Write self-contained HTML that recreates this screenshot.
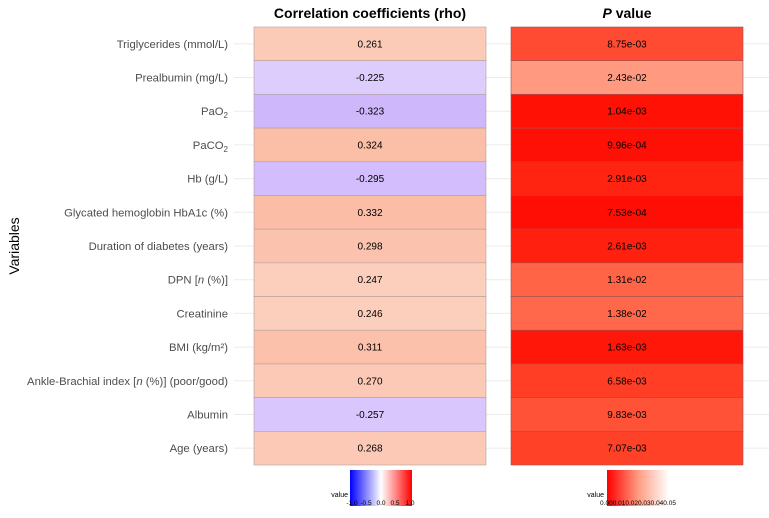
<!DOCTYPE html>
<html><head><meta charset="utf-8"><style>
body{margin:0;background:#fff;font-family:"Liberation Sans",sans-serif;}
svg text{font-family:"Liberation Sans",sans-serif;}
</style></head><body>
<svg id="c" width="769" height="513" xmlns="http://www.w3.org/2000/svg">
<defs>
<linearGradient id="gRho" x1="0" x2="1" y1="0" y2="0">
<stop offset="0" stop-color="#0000ff"/><stop offset="0.5" stop-color="#ffffff"/><stop offset="1" stop-color="#ff0000"/>
</linearGradient>
<linearGradient id="gP" x1="0" x2="1" y1="0" y2="0">
<stop offset="0" stop-color="#ff0000"/><stop offset="0.5" stop-color="#ff9a80"/><stop offset="1" stop-color="#ffffff"/>
</linearGradient>
</defs>
<g id="grid"></g>
<g id="cells"></g>
<text x="370" y="18" text-anchor="middle" font-size="14" font-weight="bold" fill="#000">Correlation coefficients (rho)</text>
<text x="627" y="18" text-anchor="middle" font-size="14" font-weight="bold" fill="#000"><tspan font-style="italic">P</tspan> value</text>
<text transform="translate(19,246) rotate(-90)" text-anchor="middle" font-size="14" fill="#000">Variables</text>
<g id="ylabels"></g>
<g>
<text x="348" y="497" text-anchor="end" font-size="7" fill="#000">value</text>
<rect x="350" y="470" width="62" height="36" fill="url(#gRho)"/>
<text x="352" y="505" text-anchor="middle" font-size="6.5">-1.0</text>
<text x="366" y="505" text-anchor="middle" font-size="6.5">-0.5</text>
<text x="381" y="505" text-anchor="middle" font-size="6.5">0.0</text>
<text x="395" y="505" text-anchor="middle" font-size="6.5">0.5</text>
<text x="410" y="505" text-anchor="middle" font-size="6.5">1.0</text>
</g>
<g>
<text x="604" y="497" text-anchor="end" font-size="7" fill="#000">value</text>
<rect x="607" y="470" width="62" height="36" fill="url(#gP)"/>
<text x="638" y="505" text-anchor="middle" font-size="6.5">0.000.010.020.030.040.05</text>
</g>
</svg>
<script>
const labels=["Triglycerides (mmol/L)","Prealbumin (mg/L)","PaO2","PaCO2","Hb (g/L)","Glycated hemoglobin HbA1c (%)","Duration of diabetes (years)","DPN [n (%)]","Creatinine","BMI (kg/m²)","Ankle-Brachial index [n (%)] (poor/good)","Albumin","Age (years)"];
const rho=[0.261,-0.225,-0.323,0.324,-0.295,0.332,0.298,0.247,0.246,0.311,0.270,-0.257,0.268];
const pvals=[8.75e-3,2.43e-2,1.04e-3,9.96e-4,2.91e-3,7.53e-4,2.61e-3,1.31e-2,1.38e-2,1.63e-3,6.58e-3,9.83e-3,7.07e-3];
const pText=["8.75e-03","2.43e-02","1.04e-03","9.96e-04","2.91e-03","7.53e-04","2.61e-03","1.31e-02","1.38e-02","1.63e-03","6.58e-03","9.83e-03","7.07e-03"];
const NS="http://www.w3.org/2000/svg";
const top0=27,bot=465,rowH=(bot-top0)/labels.length;
function yPos(i){return top0+i*rowH;}
function cl(v){return Math.max(0,Math.min(255,Math.round(v)));}
function rhoColor(v){
 if(v>=0)return `rgb(${cl(255-12*v)},${cl(255-200*v)},${cl(255-272*v)})`;
 const a=-v;return `rgb(${cl(255-150*a)},${cl(255-223*a)},${cl(255-10*a)})`;}
function pColor(p){const t=Math.max(0,Math.min(1,p/0.05));
 return `rgb(255,${cl(255*Math.pow(t,0.7))},${cl(255*Math.pow(t,0.95))})`;}
function mk(tag,attrs,parent){const e=document.createElementNS(NS,tag);for(const k in attrs)e.setAttribute(k,attrs[k]);parent.appendChild(e);return e;}
const grid=document.getElementById('grid'),cells=document.getElementById('cells'),yl=document.getElementById('ylabels');
labels.forEach((lab,i)=>{
 const cy=yPos(i)+rowH/2;
 const g=mk('line',{x1:234,x2:769,y1:cy,y2:cy,stroke:'#ebebeb','stroke-width':1},grid);
 
 
 const r=mk('rect',{x:254,y:yPos(i),width:232,height:rowH,fill:rhoColor(rho[i]),stroke:'#b0a0a0','stroke-width':0.6},cells);
 
 
 const t=mk('text',{x:370,y:cy+3.5,'text-anchor':'middle','font-size':10,fill:'#000'},cells);
 t.textContent=rho[i].toFixed(3);
 
 
 const r2=mk('rect',{x:511,y:yPos(i),width:232,height:rowH,fill:pColor(pvals[i]),stroke:'#a05050','stroke-width':0.6},cells);
 
 
 const t2=mk('text',{x:627,y:cy+3.5,'text-anchor':'middle','font-size':10,fill:'#000'},cells);
 t2.textContent=pText[i];
 
 
 const l=mk('text',{x:228,y:cy+4,'text-anchor':'end','font-size':11.3,fill:'#4d4d4d'},yl);
 
 
 if(lab==="PaO2"||lab==="PaCO2"){
  l.appendChild(document.createTextNode(lab.slice(0,-1)));
  const s=mk('tspan',{'font-size':8,dy:3},l);s.textContent="2";
 } else if(lab.includes("[n")){
  const parts=lab.split("[n");
  l.appendChild(document.createTextNode(parts[0]+"["));
  const s=mk('tspan',{'font-style':'italic'},l);s.textContent="n";
  l.appendChild(document.createTextNode(parts[1]));
 } else l.textContent=lab;
});
</script>
</body></html>
